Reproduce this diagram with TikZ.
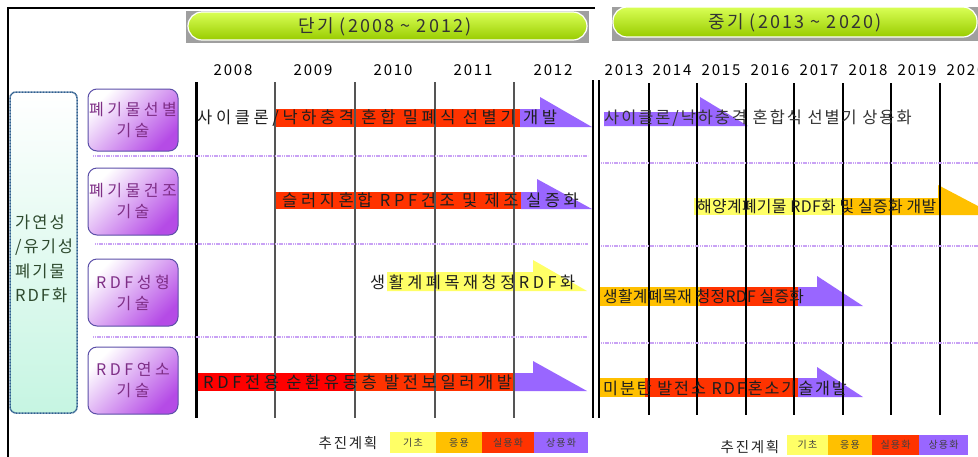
\documentclass[tikz,border=0pt]{standalone}
\usepackage{fontspec}
\setmainfont{Noto Sans CJK KR}
\newfontfamily\krA[LetterSpace=22]{Noto Sans CJK KR}
\newfontfamily\krB[LetterSpace=12]{Noto Sans CJK KR}
\newfontfamily\krC[LetterSpace=2]{Noto Sans CJK KR}
\definecolor{cred}{HTML}{FF3300}
\definecolor{cpure}{HTML}{FF0000}
\definecolor{cpurp}{HTML}{9966FF}
\definecolor{cyel}{HTML}{FFFF66}
\definecolor{corg}{HTML}{FFC000}
\definecolor{gridg}{HTML}{555555}
\definecolor{dotl}{HTML}{C9A2F5}
\definecolor{boxb}{HTML}{5B4FA8}
\definecolor{boxt}{HTML}{7E2E86}
\definecolor{boxv}{HTML}{B54BE6}
\definecolor{boxm}{HTML}{E0C6F8}
\definecolor{mintb}{HTML}{2F5F8F}
\definecolor{mintt}{HTML}{2E4A2E}
\definecolor{mintf}{HTML}{C6F5E2}
\definecolor{pilltop}{HTML}{D9FF55}
\definecolor{pillbot}{HTML}{99CC00}
\definecolor{txt}{HTML}{1E1E1E}
\tikzset{
  bartext/.style={anchor=west, inner sep=0pt, text=txt},
  yeartext/.style={inner sep=0pt, text=black, font=\krB\fontsize{15}{17}\selectfont},
  htext/.style={inner sep=0pt, text=black!80, font=\krB\fontsize{18}{20}\selectfont},
  catbox/.style={draw=boxb, line width=1pt, rounded corners=9pt, top color=white, middle color=boxm, bottom color=boxv, shading angle=45, minimum width=90pt, inner sep=0pt, align=center, text=boxt, font=\krA\fontsize{16}{21}\selectfont},
  gridline/.style={draw=gridg, line width=1.2pt},
  rgridline/.style={draw=black, line width=1.1pt},
  dotline/.style={draw=dotl, line width=1.6pt, dash pattern=on 1.2pt off 0.6pt},
  legtext/.style={inner sep=0pt, font=\krB\fontsize{10}{11}\selectfont, text=black!75},
}
\begin{document}
\begin{tikzpicture}[x=1pt,y=-1pt]
\useasboundingbox (0,0) rectangle (978,456);
\clip (0,0) rectangle (978,456);
\fill[white] (0,0) rectangle (978,456);

% frame
\draw[line width=1.2pt] (8,460) -- (8,8) -- (595,8);

% headers
\fill[gray!75] (186,11) rectangle (589,43);
\shade[top color=pilltop, bottom color=pillbot, draw=white, line width=1.2pt, rounded corners=14pt] (188,12) rectangle (587,40);
\node[htext] (h1) at (385,27) {단기 (2008 \char"007E{} 2012)};
\fill[gray!75] (612,7) rectangle (990,41);
\shade[top color=pilltop, bottom color=pillbot, draw=white, line width=1.2pt, rounded corners=14pt] (613,7) rectangle (977,37);
\node[htext] (h2) at (795,23) {중기 (2013 \char"007E{} 2020)};

% years
\foreach \yr/\xx in {2008/233,2009/313,2010/393,2011/473,2012/553,2013/624,2014/672,2015/721,2016/770,2017/819,2018/868,2019/917,2020/966}
  \node[yeartext] (y\yr) at (\xx,70) {\yr};

% mint box
\node[draw=mintb, line width=1.5pt, dash pattern=on 1pt off 0.5pt, rounded corners=6pt, top color=white, bottom color=mintf, minimum width=67pt, minimum height=321pt, inner sep=0pt] (mint) at (43.5,252.5) {};
\node[anchor=west, align=left, inner sep=0pt, text=mintt, font=\krB\fontsize{16.5}{24.5}\selectfont] (minttext) at (15,259) {가연성\\/유기성\\폐기물\\RDF화};

% category boxes
\node[catbox, minimum height=62pt] (c1) at (133,120) {폐기물선별\\기술};
\node[catbox, minimum height=67pt] (c2) at (133,201.5) {폐기물건조\\기술};
\node[catbox, minimum height=67pt] (c3) at (133,292.5) {RDF성형\\기술};
\node[catbox, minimum height=67pt] (c4) at (133,380.5) {RDF연소\\기술};

% ---- bars, left panel
\fill[cred] (275,109) rectangle (521,127);
\fill[cpurp] (520,109) rectangle (541,127) (540,97) -- (540,127) -- (592,127) -- cycle;
\fill[cred] (275,192) rectangle (522,209);
\fill[cpurp] (521,192) rectangle (538,209) (537,179) -- (537,209) -- (592,209) -- cycle;
\fill[cyel] (387,272) rectangle (534,291) (533,260) -- (533,291) -- (587,291) -- cycle;
\fill[cpure] (197,373) rectangle (354,391);
\fill[cred] (353,373) rectangle (514,391);
\fill[cpurp] (513,373) rectangle (535,391) (533,361) -- (533,391) -- (587,391) -- cycle;

% ---- bars, right panel
\fill[cpurp] (604,112) rectangle (701,126) (700,97) -- (700,126) -- (748,126) -- cycle;
\fill[cyel] (694,198) rectangle (844,215);
\fill[corg] (843,198) rectangle (939,215) (938,185) -- (938,215) -- (995,215) -- cycle;
\fill[corg] (600,287) rectangle (701,306);
\fill[cred] (700,287) rectangle (799,306);
\fill[cpurp] (798,287) rectangle (818,306) (817,276) -- (817,306) -- (863,306) -- cycle;
\fill[corg] (600,378) rectangle (646,397);
\fill[cred] (645,378) rectangle (799,397);
\fill[cpurp] (798,378) rectangle (818,397) (817,367) -- (817,397) -- (863,397) -- cycle;

% ---- grid lines left
\draw[line width=3pt] (196,82) -- (196,418);
\foreach \xx in {275,355,435,514} \draw[gridline] (\xx,82) -- (\xx,418);
\draw[line width=2.4pt] (593,80) -- (593,418);
\draw[line width=2.4pt] (599,80) -- (599,418);
% grid lines right
\foreach \xx in {649,697,746,794,843,891,940} \draw[rgridline] (\xx,83) -- (\xx,415);

% dotted separators
\draw[dotline] (93,156) -- (588,156);
\draw[dotline] (95,244) -- (588,244);
\draw[dotline] (93,337) -- (588,337);
\draw[dotline] (601,163) -- (978,163);
\draw[dotline] (601,246) -- (978,246);
\draw[dotline] (601,343) -- (978,343);

% ---- bar texts
\node[bartext, font=\krA\fontsize{16.5}{18}\selectfont] (t1) at (197,118) {사이클론/낙하충격 혼합 밀폐식 선별기 개발};
\node[bartext, font=\krA\fontsize{16.5}{18}\selectfont] (t2) at (282,200) {슬러지혼합 RPF건조 및 제조 실증화};
\node[bartext, font=\krA\fontsize{16.3}{18}\selectfont] (t3) at (370,282) {생활계폐목재청정RDF화};
\node[bartext, font=\krA\fontsize{16.5}{18}\selectfont] (t4) at (203,382) {RDF전용 순환유동층 발전보일러개발};
\node[bartext, text=black!80, font=\krB\fontsize{16.4}{18}\selectfont] (t5) at (604,118) {사이클론/낙하충격 혼합식 선별기 상용화};
\node[bartext, font=\krC\fontsize{15.9}{17}\selectfont] (t6) at (697,207) {해양계폐기물 RDF화 및 실증화 개발};
\node[bartext, font=\krC\fontsize{15.8}{17}\selectfont] (t7) at (603,297) {생활계폐목재 청정RDF 실증화};
\node[bartext, font=\krB\fontsize{16.2}{18}\selectfont] (t8) at (603,388) {미분탄 발전소 RDF혼소기술개발};

% ---- legends
\node[inner sep=0pt, font=\krB\fontsize{14.5}{16}\selectfont, text=black!85] (lg1) at (348,443) {추진계획};
\fill[cyel] (390,432) rectangle (436,453);
\fill[corg] (436,432) rectangle (482,453);
\fill[cred] (482,432) rectangle (534,453);
\fill[cpurp] (534,432) rectangle (588,453);
\node[legtext] (la1) at (413,443) {기초};
\node[legtext] (la2) at (459,443) {응용};
\node[legtext] (la3) at (508,443) {실용화};
\node[legtext] (la4) at (561,443) {상용화};

\node[inner sep=0pt, font=\krB\fontsize{14.5}{16}\selectfont, text=black!85] (lg2) at (750,447) {추진계획};
\fill[cyel] (787,435) rectangle (828,455);
\fill[corg] (828,435) rectangle (872,455);
\fill[cred] (872,435) rectangle (919,455);
\fill[cpurp] (919,435) rectangle (968,455);
\node[legtext] (lb1) at (807.5,445) {기초};
\node[legtext] (lb2) at (850,445) {응용};
\node[legtext] (lb3) at (895.5,445) {실용화};
\node[legtext] (lb4) at (943.5,445) {상용화};
\end{tikzpicture}
\end{document}
